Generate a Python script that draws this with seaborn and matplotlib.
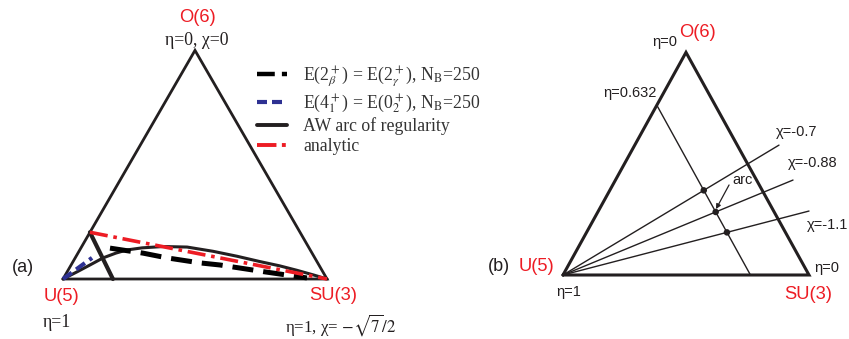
import numpy as np
import seaborn as sns
import matplotlib.pyplot as plt
from matplotlib.lines import Line2D

sns.set_style("white")
plt.rcParams["font.family"] = ["Liberation Sans", "DejaVu Sans"]
plt.rcParams["mathtext.fontset"] = "stix"

RED = "#ed1c24"
NAVY = "#2e3192"
INK = "#231f20"
SERIF = ["Liberation Serif", "DejaVu Serif"]

# ---------------- panel (a): triangle with U(5) at origin, SU(3) at (1, 0)
H_A = np.sqrt(3) / 2
tri_a_x = [0.0, 1.0, 0.5, 0.0]
tri_a_y = [0.0, 0.0, H_A, 0.0]

# AW arc of regularity
arc_x = [0.0, 0.053, 0.102, 0.152, 0.200, 0.242, 0.300, 0.379, 0.470, 0.568,
         0.660, 0.746, 0.820, 0.886, 0.950, 1.0]
arc_y = [0.0, 0.027, 0.053, 0.080, 0.098, 0.110, 0.118, 0.123, 0.121, 0.105,
         0.086, 0.066, 0.050, 0.033, 0.015, 0.0]

# E(2+_beta) = E(2+_gamma), N_B = 250
deg2_x = [0.178, 0.303, 0.394, 0.519, 0.595, 0.765, 0.924]
deg2_y = [0.117, 0.098, 0.080, 0.061, 0.053, 0.027, 0.004]

# E(4+_1) = E(0+_2), N_B = 250
deg4_x = [0.0, 0.055, 0.110]
deg4_y = [0.0, 0.040, 0.080]

# analytic estimate
ana_x = [0.102, 1.0]
ana_y = [0.177, 0.0]

# critical segment near U(5)
crit_x = [0.102, 0.189]
crit_y = [0.177, 0.0]

# ---------------- panel (b): schematic with eta and chi lines
H_B = 0.905
tri_b_x = [0.0, 1.0, 0.5, 0.0]
tri_b_y = [0.0, 0.0, H_B, 0.0]

eta_line_x = [0.382, 0.762]
eta_line_y = [0.689, 0.0]

chi_labels = ["χ=-0.7", "χ=-0.88", "χ=-1.1"]
chi_end_x = [0.878, 0.935, 1.000]
chi_end_y = [0.528, 0.386, 0.260]

fig = plt.figure(figsize=(8.49, 3.39), dpi=100)

ax_a = fig.add_axes([0, 0, 424 / 849, 1])
ax_a.set_xlim(-63 / 264, 361 / 264)
ax_a.set_ylim(-60 / 264, 279 / 264)
ax_a.set_axis_off()


def line(ax, xs, ys, **kw):
    sns.lineplot(x=np.asarray(xs), y=np.asarray(ys), sort=False, estimator=None,
                 ax=ax, legend=False, **kw)


line(ax_a, tri_a_x, tri_a_y, color=INK, lw=2.0, solid_joinstyle="miter")
line(ax_a, crit_x, crit_y, color=INK, lw=3.0)
line(ax_a, arc_x, arc_y, color=INK, lw=2.2, solid_joinstyle="round")
line(ax_a, deg2_x, deg2_y, color="black", lw=3.6, linestyle=(0, (4.2, 2.0)))
line(ax_a, deg4_x, deg4_y, color=NAVY, lw=3.0, linestyle=(0, (2.6, 1.3)))
line(ax_a, ana_x, ana_y, color=RED, lw=2.6, linestyle=(0, (5.0, 1.6, 1.0, 1.6)))

red_kw = dict(color=RED, fontsize=13.2, ha="center", va="center")
ax_a.text(0.511, 0.992, "O(6)", **red_kw)
ax_a.text(-0.004, -0.068, "U(5)", **red_kw)
ax_a.text(1.023, -0.061, "SU(3)", **red_kw)
serif_kw = dict(color=INK, fontsize=12.8, ha="center", va="center", family=SERIF)
ax_a.text(0.508, 0.905, "η=0, χ=0", **serif_kw)
ax_a.text(-0.023, -0.163, "η=1", **serif_kw)
ax_a.text(1.050, -0.174, r"η=1, χ= $-\sqrt{7}/2$", color=INK, fontsize=12.2,
          ha="center", va="center", family=SERIF)
ax_a.text(-0.152, 0.042, "(a)", color=INK, fontsize=13, ha="center", va="center")

handles = [
    Line2D([], [], color="black", lw=3.2, linestyle=(0, (4.0, 1.6))),
    Line2D([], [], color=NAVY, lw=3.0, linestyle=(0, (2.4, 1.2))),
    Line2D([], [], color=INK, lw=2.8),
    Line2D([], [], color=RED, lw=2.8, linestyle=(0, (5.0, 1.4, 1.0, 1.4))),
]
labels = [
    r"E(2$^+_\beta$) = E(2$^+_\gamma$), N$_{\rm B}$=250",
    r"E(4$^+_1$) = E(0$^+_2$), N$_{\rm B}$=250",
    "AW arc of regularity",
    "analytic",
]
ax_a.legend(handles, labels, loc="upper left", bbox_to_anchor=(257 / 424, 1 - 65 / 339),
            frameon=False, borderpad=0, borderaxespad=0, handlelength=1.7,
            handletextpad=0.9, labelspacing=0.15,
            prop={"family": SERIF, "size": 12.8}, labelcolor="#333333")

# ---------------- panel (b)
ax_b = fig.add_axes([424 / 849, 0, 425 / 849, 1])
ax_b.set_xlim(-139 / 246, 286 / 246)
ax_b.set_ylim(-64 / 246, 275 / 246)
ax_b.set_axis_off()

line(ax_b, tri_b_x, tri_b_y, color=INK, lw=2.2, solid_joinstyle="miter")
line(ax_b, eta_line_x, eta_line_y, color=INK, lw=1.0)

# crossing points of each chi ray with the eta line
ex0, ey0 = eta_line_x[0], eta_line_y[0]
edx, edy = eta_line_x[1] - ex0, eta_line_y[1] - ey0
dots_x, dots_y = [], []
for cx, cy in zip(chi_end_x, chi_end_y):
    line(ax_b, [0.0, cx], [0.0, cy], color=INK, lw=1.0)
    t = (ex0 * cy - ey0 * cx) / (edy * cx - edx * cy)
    dots_x.append(ex0 + t * edx)
    dots_y.append(ey0 + t * edy)
sns.scatterplot(x=dots_x, y=dots_y, ax=ax_b, s=22, color=INK, edgecolor="none",
                legend=False, zorder=5)

small = dict(color=INK, fontsize=10.5, ha="center", va="center")
ax_b.text(0.951, 0.581, chi_labels[0], **small)
ax_b.text(1.016, 0.455, chi_labels[1], **small)
ax_b.text(1.077, 0.203, chi_labels[2], **small)
ax_b.text(0.272, 0.740, "η=0.632", **small)
ax_b.text(0.415, 0.947, "η=0", **small)
ax_b.text(1.073, 0.028, "η=0", **small)
ax_b.text(0.024, -0.069, "η=1", **small)
ax_b.text(0.728, 0.386, "arc", **small)
ax_b.annotate("", xy=(0.622, 0.268), xytext=(0.675, 0.366),
              arrowprops=dict(arrowstyle="-|>", color=INK, lw=0.9,
                              mutation_scale=7, shrinkA=0, shrinkB=0))

ax_b.text(0.545, 0.984, "O(6)", **red_kw)
ax_b.text(-0.106, 0.033, "U(5)", **red_kw)
ax_b.text(0.996, -0.081, "SU(3)", **red_kw)
ax_b.text(-0.260, 0.033, "(b)", color=INK, fontsize=13, ha="center", va="center")

fig.savefig("out.png", dpi=100)
